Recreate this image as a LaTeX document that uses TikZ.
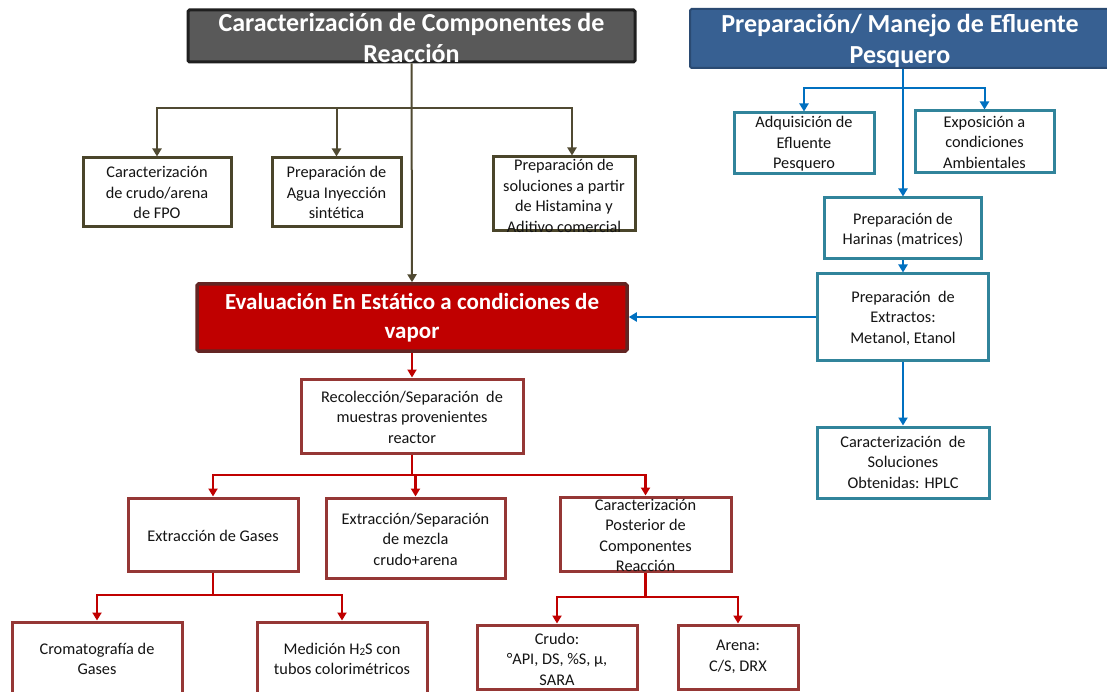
\documentclass[tikz,border=0pt]{standalone}
\usepackage{fontspec}
\setmainfont{Carlito}
\usetikzlibrary{arrows.meta}
\definecolor{tgray}{HTML}{595959}
\definecolor{tgraybd}{HTML}{1F1F1F}
\definecolor{tblue}{HTML}{376092}
\definecolor{tbluebd}{HTML}{2A4A72}
\definecolor{evred}{HTML}{C00000}
\definecolor{evredbd}{HTML}{632523}
\definecolor{olivebd}{HTML}{4A452A}
\definecolor{olivel}{HTML}{504A32}
\definecolor{redbd}{HTML}{953735}
\definecolor{redl}{HTML}{C00000}
\definecolor{bluebd}{HTML}{31849B}
\definecolor{bluel}{HTML}{0070C0}
\definecolor{txtc}{HTML}{141414}
\begin{document}
\begin{tikzpicture}[x=1pt,y=-1pt,
  obox/.style={draw=olivebd, line width=3pt, fill=white, inner sep=0pt},
  rbox/.style={draw=redbd, line width=3pt, fill=white, inner sep=0pt},
  bbox/.style={draw=bluebd, line width=3pt, fill=white, inner sep=0pt},
  txt/.style={align=center, font=\fontsize{16.3}{20.5}\selectfont, text=txtc, inner sep=0pt},
  ttl/.style={align=center, font=\bfseries\fontsize{26}{31}\selectfont, text=white, inner sep=0pt},
  evtxt/.style={align=center, font=\bfseries\fontsize{23}{29}\selectfont, text=white, inner sep=0pt},
  tip/.style={-{Triangle[width=9pt,length=8pt]}},
  oline/.style={draw=olivel, line width=2pt},
  rline/.style={draw=redl, line width=2.2pt},
  bline/.style={draw=bluel, line width=2pt}]
\useasboundingbox (0,0) rectangle (1107,692);
\fill[white] (0,0) rectangle (1107,692);

% ---- boxes ----
\node[draw=tgraybd, fill=tgray, line width=3pt, rounded corners=1.5pt, inner sep=0pt,
      minimum width=447, minimum height=52] (t1) at (411.5,36) {};
\node[draw=tbluebd, fill=tblue, line width=2pt, rounded corners=1.5pt, inner sep=0pt,
      minimum width=420, minimum height=59] (t2) at (900,38.5) {};
\node[obox, minimum width=148, minimum height=69] (c1) at (157,192.5) {};
\node[obox, minimum width=129, minimum height=69] (c2) at (336.5,192.5) {};
\node[obox, minimum width=142, minimum height=74] (c3) at (564,194) {};
\node[draw=evredbd, fill=evred, line width=3.5pt, rounded corners=1.5pt, inner sep=0pt,
      minimum width=430, minimum height=67] (ev) at (412,317.5) {};
\node[bbox, minimum width=140, minimum height=61] (adq) at (804,143.5) {};
\node[bbox, minimum width=139, minimum height=62] (exp) at (984.5,142) {};
\node[bbox, minimum width=157, minimum height=61] (har) at (903,228.5) {};
\node[bbox, minimum width=171, minimum height=86] (ext) at (903,317) {};
\node[bbox, minimum width=172, minimum height=71] (cs) at (903,462.5) {};
\node[rbox, minimum width=222, minimum height=74] (rec) at (412,416) {};
\node[rbox, minimum width=170, minimum height=73] (gas) at (213,534.5) {};
\node[rbox, minimum width=179, minimum height=80] (sep) at (415.5,538) {};
\node[rbox, minimum width=171, minimum height=74] (post) at (645.5,534) {};
\node[rbox, minimum width=170, minimum height=78] (crom) at (97,661) {};
\node[rbox, minimum width=170, minimum height=78] (med) at (342,661) {};
\node[rbox, minimum width=160, minimum height=64] (crudo) at (557,657) {};
\node[rbox, minimum width=120, minimum height=64] (arena) at (738,657) {};

% ---- olive connectors ----
\coordinate (ob) at (412,108);
\draw[oline, tip] (t1.south) -- (ev.north);
\draw[oline, tip] (ob) -| (c1.north);
\draw[oline, tip] (ob) -| (c2.north);
\draw[oline, tip] (ob) -| ([xshift=8pt]c3.north);

% ---- blue connectors ----
\coordinate (bb) at (903,88);
\draw[bline] (t2.south -| bb) -- (bb);
\draw[bline, tip] (bb) -- (har.north);
\draw[bline, tip] (bb) -| (adq.north);
\draw[bline, tip] (bb) -| (exp.north);
\draw[bline, tip] (har.south) -- (ext.north);
\draw[bline, tip] (ext.west) -- (ev.east |- ext.west);
\draw[bline, tip] (ext.south) -- (cs.north);

% ---- red connectors ----
\coordinate (rb) at (412,475);
\draw[rline, tip] (ev.south) -- (rec.north);
\draw[rline] (rec.south) -- (rb);
\draw[rline, tip] (rb) -| (gas.north);
\draw[rline, tip] (rb) -| (sep.north);
\draw[rline, tip] (rb) -| (post.north);
\coordinate (gb) at (213,595);
\draw[rline] (gas.south) -- (gb);
\draw[rline, tip] (gb) -| (crom.north);
\draw[rline, tip] (gb) -| (med.north);
\coordinate (pb) at (645.5,597);
\draw[rline] (post.south) -- (pb);
\draw[rline, tip] (pb) -| (crudo.north);
\draw[rline, tip] (pb) -| (arena.north);

% ---- texts ----
\node[ttl] (t1t) at (411.5,37.5) {Caracterización de Componentes de\\Reacción};
\node[ttl] (t2t) at (900,41) {Preparación/ Manejo de Efluente\\Pesquero};
\node[txt] (c1t) at (c1) {Caracterización\\de crudo/arena\\de FPO};
\node[txt] (c2t) at (c2) {Preparación de\\Agua Inyección\\sintética};
\node[txt] (c3t) at (564,196) {Preparación de\\soluciones a partir\\de Histamina y\\Aditivo comercial};
\node[evtxt] (evt) at (412,318) {Evaluación En Estático a condiciones de\\vapor};
\node[txt] (adqt) at (804,144) {Adquisición de\\Efluente\\Pesquero};
\node[txt] (expt) at (984.5,142) {Exposición a\\condiciones\\Ambientales};
\node[txt] (hart) at (903,230) {Preparación de\\Harinas (matrices)};
\node[txt] (extt) at (903,318) {Preparación\ \ de\\Extractos:\\Metanol, Etanol};
\node[txt] (cst) at (903,462) {Caracterización\ \ de\\Soluciones\\Obtenidas: HPLC};
\node[txt] (rect) at (412,417) {Recolección/Separación\ \ de\\muestras provenientes\\reactor};
\node[txt] (gast) at (213,536) {Extracción de Gases};
\node[txt] (sept) at (415.5,539) {Extracción/Separación\\de mezcla\\crudo+arena};
\node[txt] (postt) at (645.5,535.5) {Caracterización\\Posterior de\\Componentes\\Reacción};
\node[txt] (cromt) at (97,659) {Cromatografía de\\Gases};
\node[txt] (medt) at (342,659) {Medición H\raisebox{-1pt}{\fontsize{11}{11}\selectfont 2}S con\\tubos colorimétricos};
\node[txt] (crudot) at (557,659) {Crudo:\\°API, DS, \%S, μ,\\SARA};
\node[txt] (arenat) at (738,657) {Arena:\\C/S, DRX};
\end{tikzpicture}
\end{document}
